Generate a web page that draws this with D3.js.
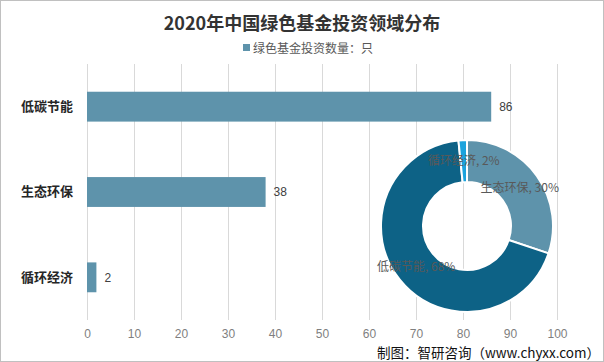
<!DOCTYPE html>
<html><head><meta charset="utf-8">
<script src="https://cdn.jsdelivr.net/npm/d3@7"></script>
<style>body{margin:0;background:#fff;} svg{display:block;font-family:"Noto Sans CJK SC","Noto Sans",sans-serif;}</style>
</head><body>
<svg id="c" width="604" height="362"></svg>
<script>
const title = "2020年中国绿色基金投资领域分布";
const legendLabel = "绿色基金投资数量：只";
const categories = ["低碳节能", "生态环保", "循环经济"];
const values = [86, 38, 2];
const xTicks = [0, 10, 20, 30, 40, 50, 60, 70, 80, 90, 100];
const pieOrder = ["生态环保", "低碳节能", "循环经济"];
const pieColors = ["#5e93ab", "#0d6286", "#1ba3dd"];
const source = "制图：智研咨询（www.chyxx.com）";

const svg = d3.select("#c");
const W = 604, H = 362;
const barColor = "#5e93ab";

svg.append("rect").attr("x",0.5).attr("y",0.5).attr("width",W-1).attr("height",H-1)
  .attr("fill","#fff").attr("stroke","#c0c0c0");

svg.append("text").attr("x",302).attr("y",30).attr("text-anchor","middle")
  .attr("font-size",18).attr("font-weight","bold").attr("fill","#333").text(title);

svg.append("rect").attr("x",243).attr("y",44).attr("width",7).attr("height",7).attr("fill",barColor);
svg.append("text").attr("x",253).attr("y",52.5).attr("font-size",12).attr("fill","#595959").text(legendLabel);

const x = d3.scaleLinear().domain([0,100]).range([87,557]);
const y = d3.scaleBand().domain(categories).range([64,320]).paddingInner(0.65).paddingOuter(0.325);

// grid
svg.append("g").selectAll("line").data(xTicks).join("line")
  .attr("x1",d=>x(d)).attr("x2",d=>x(d)).attr("y1",64).attr("y2",320)
  .attr("stroke","#d9d9d9").attr("stroke-width",1).attr("shape-rendering","crispEdges");

const xAxis = d3.axisBottom(x).tickValues(xTicks).tickSize(0).tickPadding(0);
const gx = svg.append("g").attr("transform","translate(0,320)").call(xAxis);
gx.select(".domain").remove();
gx.selectAll("text").attr("y",18).attr("dy",0).attr("font-size",12).attr("fill","#7f7f7f")
  .attr("font-family","'Liberation Sans','Noto Sans',sans-serif");

const yAxis = d3.axisLeft(y).tickSize(0).tickPadding(0);
const gy = svg.append("g").attr("transform","translate(73,0)").call(yAxis);
gy.select(".domain").remove();
gy.selectAll("text").attr("font-size",13).attr("font-weight","bold").attr("fill","#262626")
  .attr("font-family","'Noto Sans CJK SC',sans-serif");

svg.append("g").selectAll("rect").data(categories).join("rect")
  .attr("x",x(0)).attr("y",d=>y(d)).attr("height",y.bandwidth())
  .attr("width",(d,i)=>x(values[i])-x(0)).attr("fill",barColor);

svg.append("g").selectAll("text").data(categories).join("text")
  .attr("x",(d,i)=>x(values[i])+8).attr("y",d=>y(d)+y.bandwidth()/2).attr("dy","0.35em")
  .attr("font-size",12).attr("fill","#404040")
  .attr("font-family","'Liberation Sans','Noto Sans',sans-serif")
  .text((d,i)=>values[i]);

// donut
const total = d3.sum(values);
const pieData = pieOrder.map(n=>({name:n, value: values[categories.indexOf(n)]}));
const pie = d3.pie().value(d=>d.value).sort(null);
const arc = d3.arc().innerRadius(44).outerRadius(86);
const g = svg.append("g").attr("transform","translate(467,226)");
const arcs = pie(pieData);
g.selectAll("path").data(arcs).join("path").attr("d",arc)
  .attr("fill",(d,i)=>pieColors[i]).attr("stroke","#fff").attr("stroke-width",2);
g.selectAll("text").data(arcs).join("text")
  .attr("transform",d=>`translate(${arc.centroid(d)})`).attr("text-anchor","middle").attr("dy","0.35em")
  .attr("font-size",12).attr("fill","#595959")
  .text(d=>`${d.data.name}, ${Math.round(d.data.value/total*100)}%`);

svg.append("text").attr("x",600).attr("y",358).attr("text-anchor","end")
  .attr("font-size",13.5).attr("fill","#111").text(source);
</script>
</body></html>
